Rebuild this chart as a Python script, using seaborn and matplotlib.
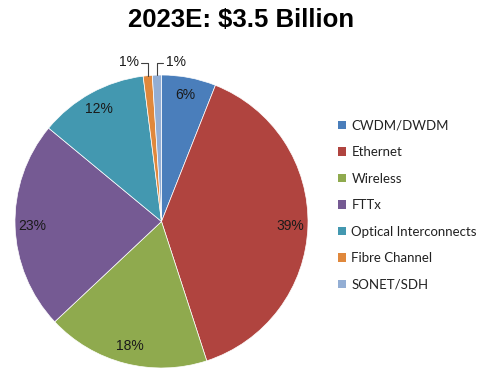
import numpy as np
import matplotlib
matplotlib.use("Agg")
import matplotlib.pyplot as plt
from matplotlib.patches import Patch
import seaborn as sns

sns.set_theme(style="white")
plt.rcParams["font.family"] = ["Liberation Sans", "DejaVu Sans"]

segments = ["CWDM/DWDM", "Ethernet", "Wireless", "FTTx",
            "Optical Interconnects", "Fibre Channel", "SONET/SDH"]
shares = [6, 39, 18, 23, 12, 1, 1]
colors = ["#4A7EBB", "#B0443F", "#8FAA4E", "#755A93",
          "#4398B0", "#E0883C", "#93AED4"]
title = "2023E: $3.5 Billion"

palette = sns.color_palette(colors)

fig = plt.figure(figsize=(4.85, 3.69), dpi=100)
ax = fig.add_axes([(161.5 - 146.5) / 485, (369 - 221.5 - 146.5) / 369,
                   293 / 485, 293 / 369])

wedges, _ = ax.pie(shares, colors=palette, startangle=90, counterclock=False,
                   wedgeprops=dict(edgecolor="white", linewidth=0.5))
ax.set_xlim(-1, 1)
ax.set_ylim(-1, 1)
ax.set_aspect("equal")

# percentage labels inside the larger slices, small ones get leader lines
for w, v in zip(wedges, shares):
    mid = np.deg2rad((w.theta1 + w.theta2) / 2)
    if v >= 5:
        r = 0.88
        ax.text(r * np.cos(mid), r * np.sin(mid), f"{v}%", ha="center",
                va="center", fontsize=10, color="#1a1a1a")

small = [(w, v) for w, v in zip(wedges, shares) if v < 5]
for i, (w, v) in enumerate(small):
    mid = np.deg2rad((w.theta1 + w.theta2) / 2)
    x0, y0 = np.cos(mid), np.sin(mid)
    elbow_y = 1.08
    side = -1 if i == 0 else 1
    x1 = x0 + side * 0.045
    ax.plot([x0, x0, x1], [y0, elbow_y, elbow_y], color="#404040", lw=0.8,
            clip_on=False)
    ax.text(x1 + side * 0.015, elbow_y + 0.01, f"{v}%",
            ha="right" if side < 0 else "left", va="center", fontsize=10,
            color="#1a1a1a")

fig.text(0.497, 0.945, title, ha="center", va="center", fontsize=18.5,
         fontweight="bold", color="black")

handles = [Patch(facecolor=c, edgecolor="none") for c in palette]
fig.legend(handles, segments, loc="upper left",
           bbox_to_anchor=(331 / 485, 1 - 113 / 369), frameon=False,
           prop=dict(family="Lato", size=9.5), handlelength=0.6,
           handleheight=0.6, handletextpad=0.45, labelspacing=1.1,
           borderpad=0, labelcolor="#222222")

fig.savefig("out.png", dpi=100)
